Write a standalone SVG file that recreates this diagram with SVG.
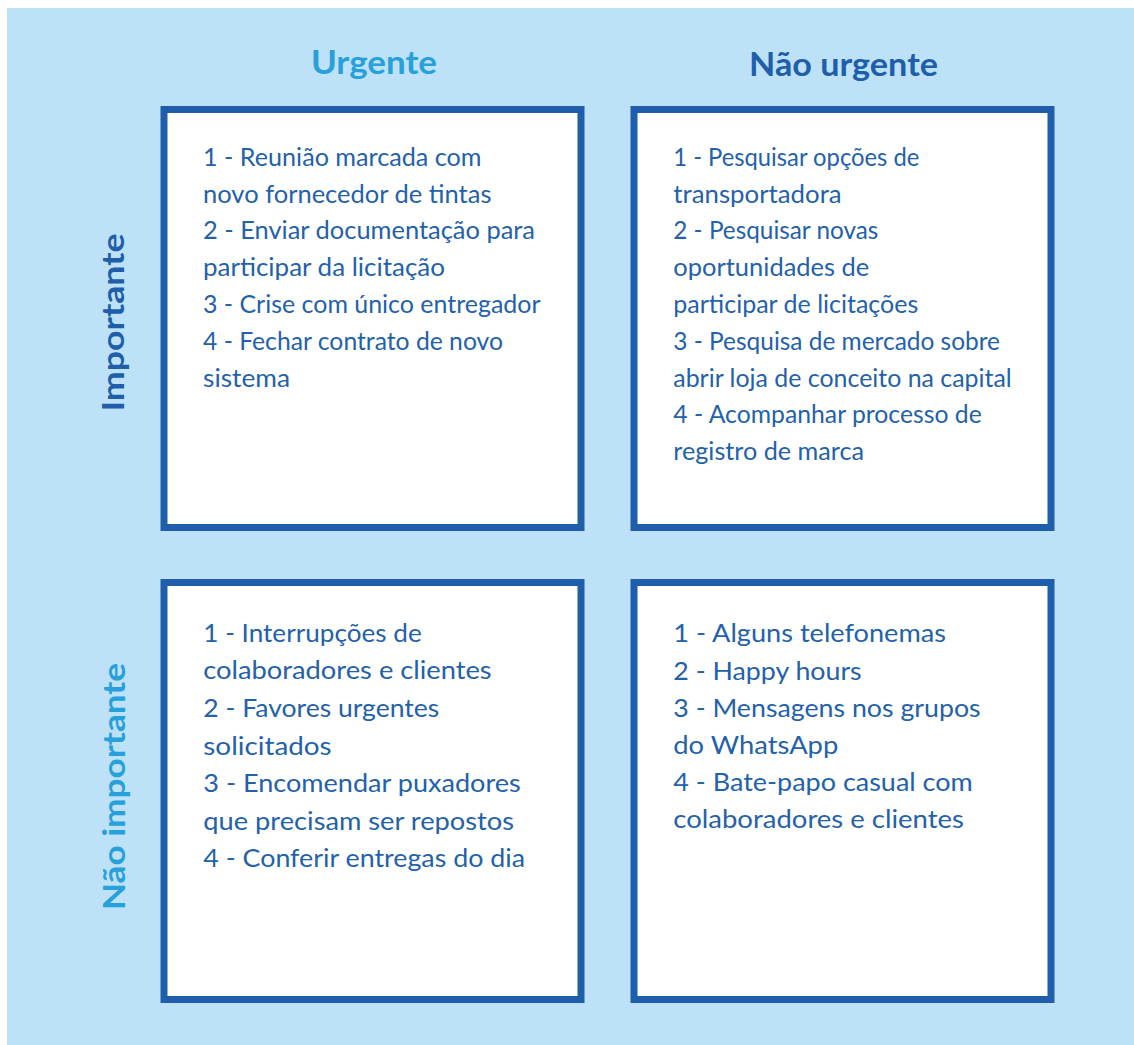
<svg xmlns="http://www.w3.org/2000/svg" width="1134" height="1045" viewBox="0 0 1134 1045">
<style>
.box{fill:#ffffff;stroke:#1f5eaa;stroke-width:7}
.t{font-family:Lato,"Open Sans","Liberation Sans",sans-serif;font-size:25px;fill:#2361ab}
.h{font-family:Lato,"Open Sans","Liberation Sans",sans-serif;font-size:32px;font-weight:bold;text-anchor:middle}
.dark{fill:#1f5eaa}
.light{fill:#28a0db}
</style>
<rect x="7" y="8" width="1127" height="1037" fill="#bde2f7"/>
<g id="header-urgente"><text class="h light" x="374" y="74" textLength="126" lengthAdjust="spacingAndGlyphs">Urgente</text></g>
<g id="header-nao-urgente"><text class="h dark" x="843.5" y="76" textLength="189" lengthAdjust="spacingAndGlyphs">Não urgente</text></g>
<g id="label-importante"><text class="h dark" transform="translate(123.5,322.5) rotate(-90)" x="0" y="0" style="font-size:30px" textLength="178" lengthAdjust="spacingAndGlyphs">Importante</text></g>
<g id="label-nao-importante"><text class="h light" transform="translate(124.5,786.5) rotate(-90)" x="0" y="0" style="font-size:30px" textLength="247" lengthAdjust="spacingAndGlyphs">Não importante</text></g>
<g id="q-urgente-importante">
<rect class="box" x="164" y="109.5" width="417" height="418"/>
<text class="t">
<tspan x="203" y="165.7" textLength="278.5" lengthAdjust="spacingAndGlyphs">1 - Reunião marcada com</tspan>
<tspan x="203" y="202.5" textLength="288.5" lengthAdjust="spacingAndGlyphs">novo fornecedor de tintas</tspan>
<tspan x="203" y="239.3" textLength="332" lengthAdjust="spacingAndGlyphs">2 - Enviar documentação para</tspan>
<tspan x="203" y="276.1" textLength="242" lengthAdjust="spacingAndGlyphs">participar da licitação</tspan>
<tspan x="203" y="312.9" textLength="337" lengthAdjust="spacingAndGlyphs">3 - Crise com único entregador</tspan>
<tspan x="203" y="349.7" textLength="300" lengthAdjust="spacingAndGlyphs">4 - Fechar contrato de novo</tspan>
<tspan x="203" y="386.5" textLength="87" lengthAdjust="spacingAndGlyphs">sistema</tspan>
</text>
</g>
<g id="q-nao-urgente-importante">
<rect class="box" x="634" y="109.5" width="417" height="418"/>
<text class="t">
<tspan x="673.3" y="165.7" textLength="246" lengthAdjust="spacingAndGlyphs">1 - Pesquisar opções de</tspan>
<tspan x="673.3" y="202.5" textLength="168.4" lengthAdjust="spacingAndGlyphs">transportadora</tspan>
<tspan x="673.3" y="239.3" textLength="205" lengthAdjust="spacingAndGlyphs">2 - Pesquisar novas</tspan>
<tspan x="673.3" y="276.1" textLength="196" lengthAdjust="spacingAndGlyphs">oportunidades de</tspan>
<tspan x="673.3" y="312.9" textLength="245" lengthAdjust="spacingAndGlyphs">participar de licitações</tspan>
<tspan x="673.3" y="349.7" textLength="326.7" lengthAdjust="spacingAndGlyphs">3 - Pesquisa de mercado sobre</tspan>
<tspan x="673.3" y="386.5" textLength="338.4" lengthAdjust="spacingAndGlyphs">abrir loja de conceito na capital</tspan>
<tspan x="673.3" y="423.3" textLength="308.4" lengthAdjust="spacingAndGlyphs">4 - Acompanhar processo de</tspan>
<tspan x="673.3" y="460.1" textLength="190.7" lengthAdjust="spacingAndGlyphs">registro de marca</tspan>
</text>
</g>
<g id="q-urgente-nao-importante">
<rect class="box" x="164" y="582.5" width="417" height="417"/>
<text class="t">
<tspan x="203.3" y="641.7" textLength="218.4" lengthAdjust="spacingAndGlyphs">1 - Interrupções de</tspan>
<tspan x="203.3" y="679.3" textLength="288.4" lengthAdjust="spacingAndGlyphs">colaboradores e clientes</tspan>
<tspan x="203.3" y="716.9" textLength="236" lengthAdjust="spacingAndGlyphs">2 - Favores urgentes</tspan>
<tspan x="203.3" y="754.5" textLength="128.4" lengthAdjust="spacingAndGlyphs">solicitados</tspan>
<tspan x="203.3" y="792.1" textLength="317.4" lengthAdjust="spacingAndGlyphs">3 - Encomendar puxadores</tspan>
<tspan x="203.3" y="829.7" textLength="310.7" lengthAdjust="spacingAndGlyphs">que precisam ser repostos</tspan>
<tspan x="203.3" y="867.3" textLength="321.7" lengthAdjust="spacingAndGlyphs">4 - Conferir entregas do dia</tspan>
</text>
</g>
<g id="q-nao-urgente-nao-importante">
<rect class="box" x="634" y="582.5" width="417" height="417"/>
<text class="t">
<tspan x="673.3" y="642.3" textLength="272.7" lengthAdjust="spacingAndGlyphs">1 - Alguns telefonemas</tspan>
<tspan x="673.3" y="679.5" textLength="188.4" lengthAdjust="spacingAndGlyphs">2 - Happy hours</tspan>
<tspan x="673.3" y="716.7" textLength="307.4" lengthAdjust="spacingAndGlyphs">3 - Mensagens nos grupos</tspan>
<tspan x="673.3" y="753.9" textLength="165" lengthAdjust="spacingAndGlyphs">do WhatsApp</tspan>
<tspan x="673.3" y="791.1" textLength="299.4" lengthAdjust="spacingAndGlyphs">4 - Bate-papo casual com</tspan>
<tspan x="673.3" y="828.3" textLength="290.7" lengthAdjust="spacingAndGlyphs">colaboradores e clientes</tspan>
</text>
</g>
<g id="connectors"></g>
</svg>
